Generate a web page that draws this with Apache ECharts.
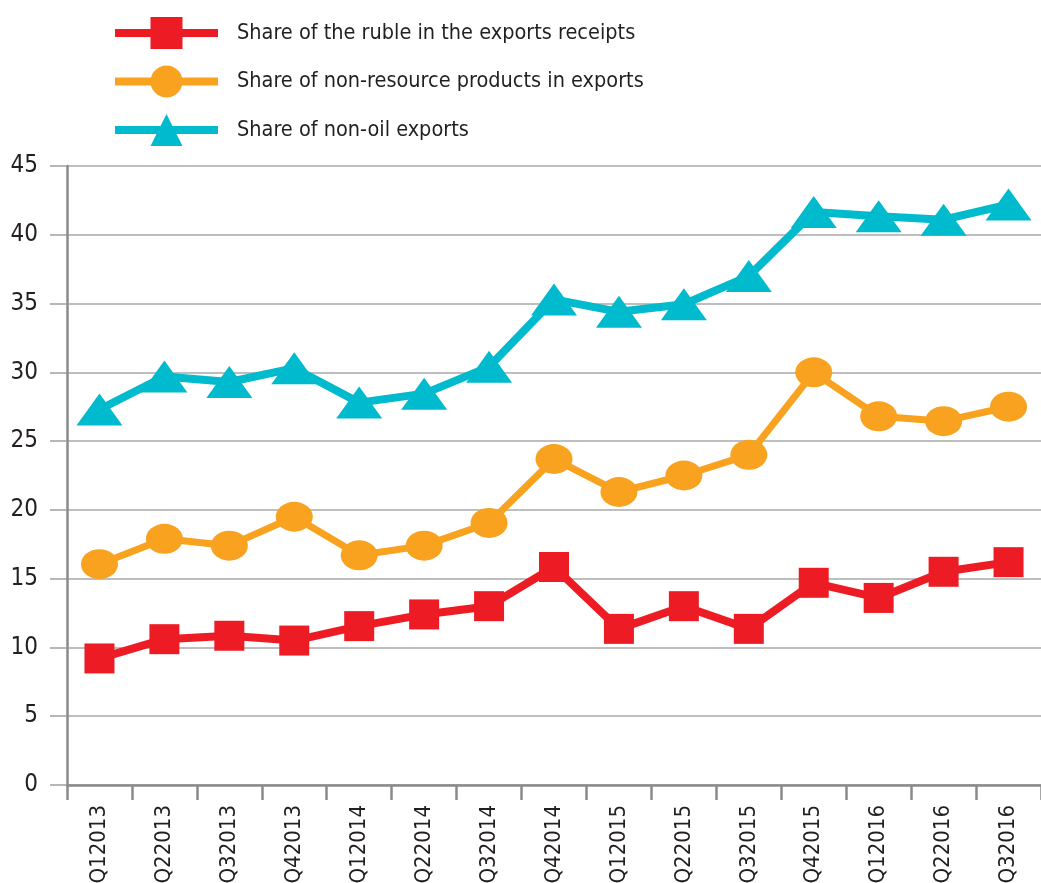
<!DOCTYPE html>
<html>
<head>
<meta charset="utf-8">
<script src="https://cdn.jsdelivr.net/npm/echarts@6/dist/echarts.min.js"></script>
<style>
html,body{margin:0;padding:0;background:#fff;}
#chart{width:1041px;height:883px;}
</style>
</head>
<body>
<div id="chart"></div>
<script>
var categories = ['Q12013','Q22013','Q32013','Q42013','Q12014','Q22014','Q32014','Q42014','Q12015','Q22015','Q32015','Q42015','Q12016','Q22016','Q32016'];
var rubleShare = [9.2, 10.6, 10.85, 10.5, 11.55, 12.4, 13.0, 15.85, 11.35, 13.0, 11.35, 14.7, 13.6, 15.5, 16.2];
var nonResourceShare = [16.05, 17.9, 17.4, 19.5, 16.7, 17.4, 19.05, 23.7, 21.3, 22.5, 24.0, 30.0, 26.8, 26.45, 27.5];
var nonOilShare = [27.3, 29.7, 29.3, 30.3, 27.8, 28.45, 30.4, 35.3, 34.4, 34.95, 37.0, 41.65, 41.35, 41.1, 42.2];
var seriesNames = ['Share of the ruble in the exports receipts','Share of non-resource products in exports','Share of non-oil exports'];
var yTicks = {min: 0, max: 45, interval: 5};

var FONT = '"DejaVu Sans Condensed","Liberation Sans Narrow","DejaVu Sans",sans-serif';
var colors = ['#ED1C24', '#F8A21F', '#00BACD'];
var chart = echarts.init(document.getElementById('chart'), null, {renderer: 'canvas'});
chart.setOption({
  animation: false,
  backgroundColor: '#ffffff',
  legend: {
    orient: 'vertical',
    left: 111,
    top: 17,
    padding: 0,
    itemWidth: 103,
    itemHeight: 40,
    itemGap: 16.5,
    textStyle: {fontFamily: FONT, fontSize: 21.5, color: '#231F20', padding: [0, 0, 0, 14]},
    data: seriesNames.map(function (n, i) {
      return {name: n, lineStyle: {width: 8, color: colors[i]}};
    })
  },
  grid: {left: 67, right: 0, top: 166, bottom: 98, containLabel: false, outerBoundsMode: 'none'},
  xAxis: {
    type: 'category',
    data: categories,
    boundaryGap: true,
    axisLine: {show: true, lineStyle: {color: '#8a8a8a', width: 2.5}},
    axisTick: {show: true, length: 15, alignWithLabel: false, lineStyle: {color: '#8a8a8a', width: 2.5}},
    axisLabel: {rotate: 90, margin: 20, fontFamily: FONT, fontSize: 22, color: '#231F20', interval: 0}
  },
  yAxis: {
    type: 'value',
    min: yTicks.min,
    max: yTicks.max,
    interval: yTicks.interval,
    axisLine: {show: true, lineStyle: {color: '#8a8a8a', width: 2.5}},
    axisTick: {show: true, length: 17, lineStyle: {color: '#a0a0a0', width: 1.5}},
    splitLine: {show: true, lineStyle: {color: '#a8a8a8', width: 1.5}},
    axisLabel: {margin: 29, fontFamily: FONT, fontSize: 24, color: '#231F20'}
  },
  series: [
    {
      name: seriesNames[0], type: 'line', data: rubleShare,
      symbol: 'rect', symbolSize: 30,
      lineStyle: {color: colors[0], width: 8},
      itemStyle: {color: colors[0]},
      z: 4
    },
    {
      name: seriesNames[1], type: 'line', data: nonResourceShare,
      symbol: 'circle', symbolSize: [37, 30],
      lineStyle: {color: colors[1], width: 7},
      itemStyle: {color: colors[1]},
      z: 3
    },
    {
      name: seriesNames[2], type: 'line', data: nonOilShare,
      symbol: 'triangle', symbolSize: [46, 32],
      lineStyle: {color: colors[2], width: 8},
      itemStyle: {color: colors[2]},
      z: 2
    }
  ]
});
</script>
</body>
</html>
